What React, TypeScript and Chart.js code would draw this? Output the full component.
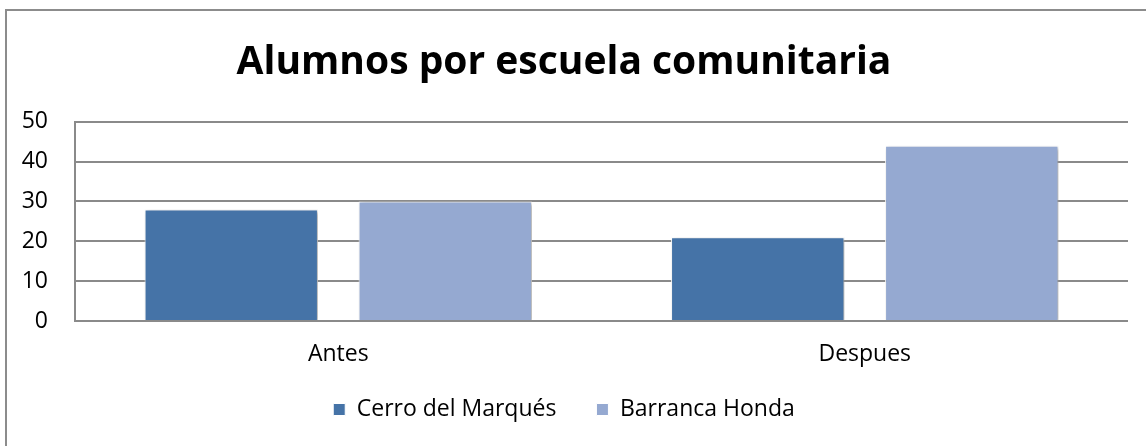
import { useEffect, useRef } from "react";
import { Chart, registerables } from "chart.js";

Chart.register(...registerables);

const chartTitle = "Alumnos por escuela comunitaria";
const categories = ["Antes", "Despues"];
const seriesNames = ["Cerro del Marqués", "Barranca Honda"];
const cerroDelMarques = [28, 21];
const barrancaHonda = [30, 44];
const yMin = 0;
const yMax = 50;
const yStep = 10;

const FONT = "'Open Sans', 'Noto Sans', sans-serif";

const framePlugin = {
  id: "frame",
  beforeDraw(chart: any) {
    const { ctx, width, height } = chart;
    ctx.save();
    ctx.fillStyle = "#ffffff";
    ctx.fillRect(0, 0, width, height);
    ctx.strokeStyle = "#8c8c8c";
    ctx.lineWidth = 2;
    ctx.beginPath();
    ctx.moveTo(6, height);
    ctx.lineTo(6, 10);
    ctx.lineTo(width, 10);
    ctx.stroke();
    ctx.restore();
  },
};

const shadowPlugin = {
  id: "barShadow",
  beforeDatasetsDraw(chart: any) {
    const ctx = chart.ctx;
    ctx.save();
    ctx.shadowColor = "rgba(0,0,0,0.35)";
    ctx.shadowBlur = 4;
    ctx.shadowOffsetX = 2;
    ctx.shadowOffsetY = 2;
  },
  afterDatasetsDraw(chart: any) {
    chart.ctx.restore();
  },
};

export default function App() {
  const canvasRef = useRef<HTMLCanvasElement | null>(null);

  useEffect(() => {
    document.body.style.margin = "0";
    const canvas = canvasRef.current;
    if (!canvas) return;
    const chart = new Chart(canvas, {
      type: "bar",
      data: {
        labels: categories,
        datasets: [
          {
            label: seriesNames[0],
            data: cerroDelMarques,
            backgroundColor: "#4573A7",
            borderColor: "#ffffff",
            borderWidth: 1,
            categoryPercentage: 0.813,
            barPercentage: 0.81,
          },
          {
            label: seriesNames[1],
            data: barrancaHonda,
            backgroundColor: "#95A9D1",
            borderColor: "#ffffff",
            borderWidth: 1,
            categoryPercentage: 0.813,
            barPercentage: 0.81,
          },
        ],
      },
      options: {
        responsive: false,
        animation: false,
        layout: { padding: { left: 0, right: 18, top: 0, bottom: 15 } },
        plugins: {
          title: {
            display: true,
            text: chartTitle,
            color: "#000000",
            font: { family: FONT, size: 39, weight: "bold" },
            padding: { top: 39, bottom: 36 },
          },
          legend: {
            display: true,
            position: "bottom",
            labels: {
              color: "#000000",
              font: { family: FONT, size: 23 },
              boxWidth: 12,
              boxHeight: 12,
              padding: 40,
            },
          },
          tooltip: { enabled: false },
        },
        scales: {
          x: {
            grid: { display: false },
            border: { display: false },
            ticks: {
              color: "#000000",
              font: { family: FONT, size: 23 },
              mirror: true,
              padding: -47,
            },
            afterFit(scale: any) {
              scale.height = 37;
            },
          },
          y: {
            min: yMin,
            max: yMax,
            ticks: {
              stepSize: yStep,
              color: "#000000",
              font: { family: FONT, size: 23 },
              padding: 27,
            },
            grid: { color: "#8a8a8a", lineWidth: 2, drawTicks: false },
            border: { display: true, color: "#8a8a8a", width: 2 },
            afterFit(scale: any) {
              scale.width = 75;
            },
          },
        },
      },
      plugins: [framePlugin, shadowPlugin],
    } as any);
    return () => chart.destroy();
  }, []);

  return (
    <div style={{ position: "relative", width: 1146, height: 446 }}>
      <canvas ref={canvasRef} width={1146} height={446} style={{ display: "block" }} />
    </div>
  );
}
